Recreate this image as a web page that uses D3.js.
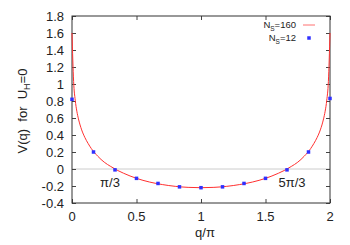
<!DOCTYPE html>
<html><head><meta charset="utf-8">
<script src="https://cdn.jsdelivr.net/npm/d3@7"></script>
<style>body{margin:0;background:#fff}svg{display:block}text{font-family:"Liberation Sans",Arial,sans-serif;fill:#222;white-space:pre}</style>
</head><body><svg id="c" width="350" height="245"></svg>
<script>
// N_S = 160 curve (q/pi, V)
const lineQ = [0, 0.0125, 0.025, 0.0375, 0.05, 0.075, 0.1, 0.125, 0.15, 0.2, 0.25, 0.3, 0.35, 0.4, 0.5, 0.6, 0.7, 0.8, 0.9, 1.0,
  1.1, 1.2, 1.3, 1.4, 1.5, 1.6, 1.65, 1.7, 1.75, 1.8, 1.85, 1.875, 1.9, 1.925, 1.95, 1.9625, 1.975, 1.9875, 2.0];
const lineV = [1.60, 1.03, 0.81, 0.68, 0.59, 0.46, 0.37, 0.30, 0.24, 0.15, 0.08, 0.03, -0.014, -0.05, -0.11, -0.153, -0.183, -0.204, -0.216, -0.22,
  -0.216, -0.204, -0.183, -0.153, -0.11, -0.05, -0.014, 0.03, 0.08, 0.15, 0.24, 0.30, 0.37, 0.46, 0.59, 0.68, 0.81, 1.03, 1.60];
// N_S = 12 points
const ptQ = [0, 0.1667, 0.3333, 0.5, 0.6667, 0.8333, 1.0, 1.1667, 1.3333, 1.5, 1.6667, 1.8333, 2.0];
const ptV = [0.82, 0.20, -0.01, -0.11, -0.17, -0.21, -0.22, -0.21, -0.17, -0.11, -0.01, 0.20, 0.83];
const xTicks = [0, 0.5, 1, 1.5, 2];
const yTicks = [-0.4, -0.2, 0, 0.2, 0.4, 0.6, 0.8, 1, 1.2, 1.4, 1.6, 1.8];

const svg = d3.select("#c");
const L = 72, R = 330, T = 16, B = 203;
const x = d3.scaleLinear().domain([0, 2]).range([L, R]);
const y = d3.scaleLinear().domain([-0.4, 1.8]).range([B, T]);
const fs = 13;

// zero line
svg.append("line").attr("x1", L).attr("x2", R).attr("y1", y(0)).attr("y2", y(0))
  .attr("stroke", "#ccc").attr("stroke-width", 1);

// axes with inward ticks
const tl = 4;
const fmtY = d => String(+d.toFixed(1));
svg.append("g").attr("transform", `translate(${L},0)`)
  .call(d3.axisRight(y).tickValues(yTicks).tickSize(tl).tickFormat(""))
  .call(g => g.select(".domain").remove());
svg.append("g").attr("transform", `translate(${R},0)`)
  .call(d3.axisLeft(y).tickValues(yTicks).tickSize(tl).tickFormat(""))
  .call(g => g.select(".domain").remove());
svg.append("g").attr("transform", `translate(0,${B})`)
  .call(d3.axisTop(x).tickValues(xTicks).tickSize(tl).tickFormat(""))
  .call(g => g.select(".domain").remove());
svg.append("g").attr("transform", `translate(0,${T})`)
  .call(d3.axisBottom(x).tickValues(xTicks).tickSize(tl).tickFormat(""))
  .call(g => g.select(".domain").remove());
svg.selectAll(".tick line").attr("stroke", "#444");

// tick labels
svg.append("g").selectAll("text").data(yTicks).join("text")
  .attr("x", L - 8).attr("y", d => y(d)).attr("dy", "0.36em")
  .attr("text-anchor", "end").attr("font-size", fs).text(fmtY);
svg.append("g").selectAll("text").data(xTicks).join("text")
  .attr("x", d => x(d)).attr("y", B + 18)
  .attr("text-anchor", "middle").attr("font-size", fs).text(d => String(d));

// frame
svg.append("rect").attr("x", L).attr("y", T).attr("width", R - L).attr("height", B - T)
  .attr("fill", "none").attr("stroke", "#333").attr("stroke-width", 1);

// curve
const lineData = lineQ.map((q, i) => [q, lineV[i]]);
svg.append("path").datum(lineData)
  .attr("d", d3.line().x(d => x(d[0])).y(d => y(d[1])).curve(d3.curveMonotoneX))
  .attr("fill", "none").attr("stroke", "#ff3030").attr("stroke-width", 1);

// points
const pts = ptQ.map((q, i) => [q, ptV[i]]);
svg.append("g").selectAll("rect").data(pts).join("rect")
  .attr("x", d => x(d[0]) - 1.75).attr("y", d => y(d[1]) - 1.75)
  .attr("width", 3.5).attr("height", 3.5).attr("fill", "#3030ff");

// annotations
svg.append("text").attr("x", 110).attr("y", 187).attr("text-anchor", "middle").attr("font-size", fs).text("π/3");
svg.append("text").attr("x", 292).attr("y", 187).attr("text-anchor", "middle").attr("font-size", fs).text("5π/3");

// axis titles
svg.append("text").attr("x", 205).attr("y", 237).attr("text-anchor", "middle").attr("font-size", fs).text("q/π");
const yt = svg.append("text").attr("transform", "translate(27,111) rotate(-90)")
  .attr("text-anchor", "middle").attr("font-size", fs);
yt.append("tspan").text("V(q)  for  U");
yt.append("tspan").attr("font-size", 9).attr("dy", 3).text("H");
yt.append("tspan").attr("dy", -3).text("=0");

// legend
const lg = svg.append("g");
function legText(yy, num) {
  const t = lg.append("text").attr("x", 296).attr("y", yy).attr("dy", "0.35em")
    .attr("text-anchor", "end").attr("font-size", 9.5);
  t.append("tspan").text("N");
  t.append("tspan").attr("font-size", 6.5).attr("dy", 2.5).text("S");
  t.append("tspan").attr("dy", -2.5).text("=" + num);
}
legText(25, 160);
legText(38, 12);
lg.append("line").attr("x1", 303).attr("x2", 315).attr("y1", 25).attr("y2", 25)
  .attr("stroke", "#ff7070").attr("stroke-width", 1);
lg.append("rect").attr("x", 307.25).attr("y", 36.25).attr("width", 3.5).attr("height", 3.5).attr("fill", "#3030ff");
</script></body></html>
